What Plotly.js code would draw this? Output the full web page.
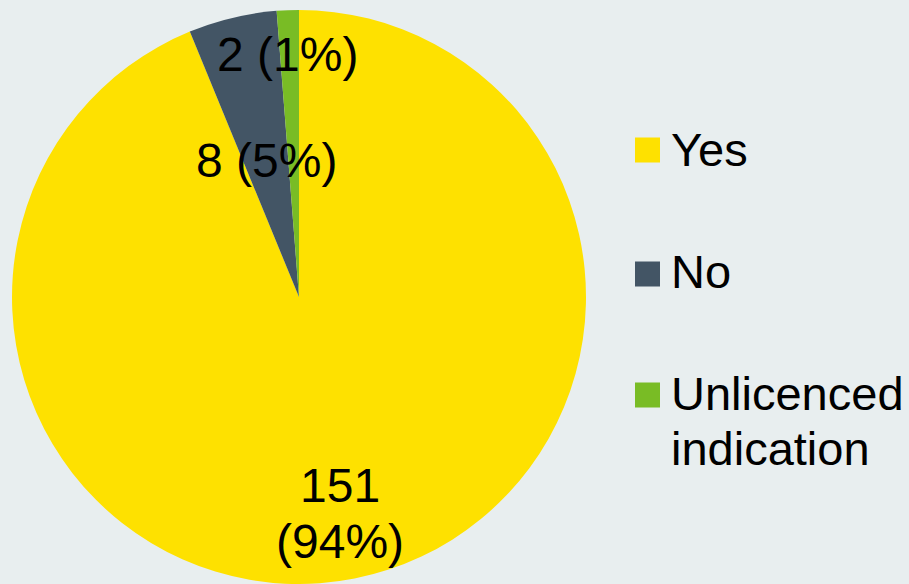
<!DOCTYPE html>
<html>
<head>
<meta charset="utf-8">
<script src="https://cdn.plot.ly/plotly-3.0.1.min.js"></script>
<style>html,body{margin:0;padding:0;background:#e8eeef;}</style>
</head>
<body>
<div id="chart" style="width:909px;height:584px;"></div>
<script>
// Data
const categories = ['Yes', 'No', 'Unlicenced indication'];
const legendLines = [['Yes'], ['No'], ['Unlicenced', 'indication']];
const counts = [151, 8, 2];
const colors = ['#fee100', '#435565', '#79bc25'];

const W = 909, H = 584;
const total = counts.reduce((a, b) => a + b, 0);
const pct = counts.map(v => Math.round(100 * v / total));
const sliceLines = [
  [String(counts[0]), '(' + pct[0] + '%)'],
  [counts[1] + ' (' + pct[1] + '%)'],
  [counts[2] + ' (' + pct[2] + '%)']
];
// label placement (pixels): x centre, y of each line centre
const labelX = [340, 266, 287];
const labelY = [[485, 541], [161], [55]];
const legendRowY = [150, 274, 395];
const legendTextY = [[149], [271], [393, 448]];

const font = 'Liberation Sans, Arial, sans-serif';
const annotations = [];
const shapes = [];
sliceLines.forEach((lines, i) => {
  lines.forEach((t, j) => {
    annotations.push({
      text: t, xref: 'paper', yref: 'paper',
      x: labelX[i] / W, y: 1 - labelY[i][j] / H,
      xanchor: 'center', yanchor: 'middle', showarrow: false,
      font: {family: font, size: 48, color: '#000000'}
    });
  });
});
categories.forEach((c, i) => {
  shapes.push({
    type: 'rect', xref: 'paper', yref: 'paper',
    x0: 635 / W, x1: 660 / W,
    y0: 1 - (legendRowY[i] + 12.5) / H, y1: 1 - (legendRowY[i] - 12.5) / H,
    fillcolor: colors[i], line: {width: 0}
  });
  legendLines[i].forEach((t, j) => {
    annotations.push({
      text: t, xref: 'paper', yref: 'paper',
      x: 669 / W, y: 1 - legendTextY[i][j] / H,
      xanchor: 'left', yanchor: 'middle', align: 'left', showarrow: false,
      font: {family: font, size: 47, color: '#000000'}
    });
  });
});

const trace = {
  type: 'pie',
  labels: categories,
  values: counts,
  sort: false,
  direction: 'clockwise',
  rotation: 0,
  textinfo: 'none',
  hoverinfo: 'label+value+percent',
  marker: {colors: colors, line: {width: 0}},
  domain: {x: [12 / W, 586 / W], y: [0, 574 / H]},
  showlegend: false
};

const layout = {
  width: W, height: H,
  margin: {l: 0, r: 0, t: 0, b: 0},
  paper_bgcolor: '#e8eeef',
  plot_bgcolor: '#e8eeef',
  showlegend: false,
  annotations: annotations,
  shapes: shapes,
  font: {family: font}
};

Plotly.newPlot('chart', [trace], layout, {displayModeBar: false, staticPlot: true});
</script>
</body>
</html>
